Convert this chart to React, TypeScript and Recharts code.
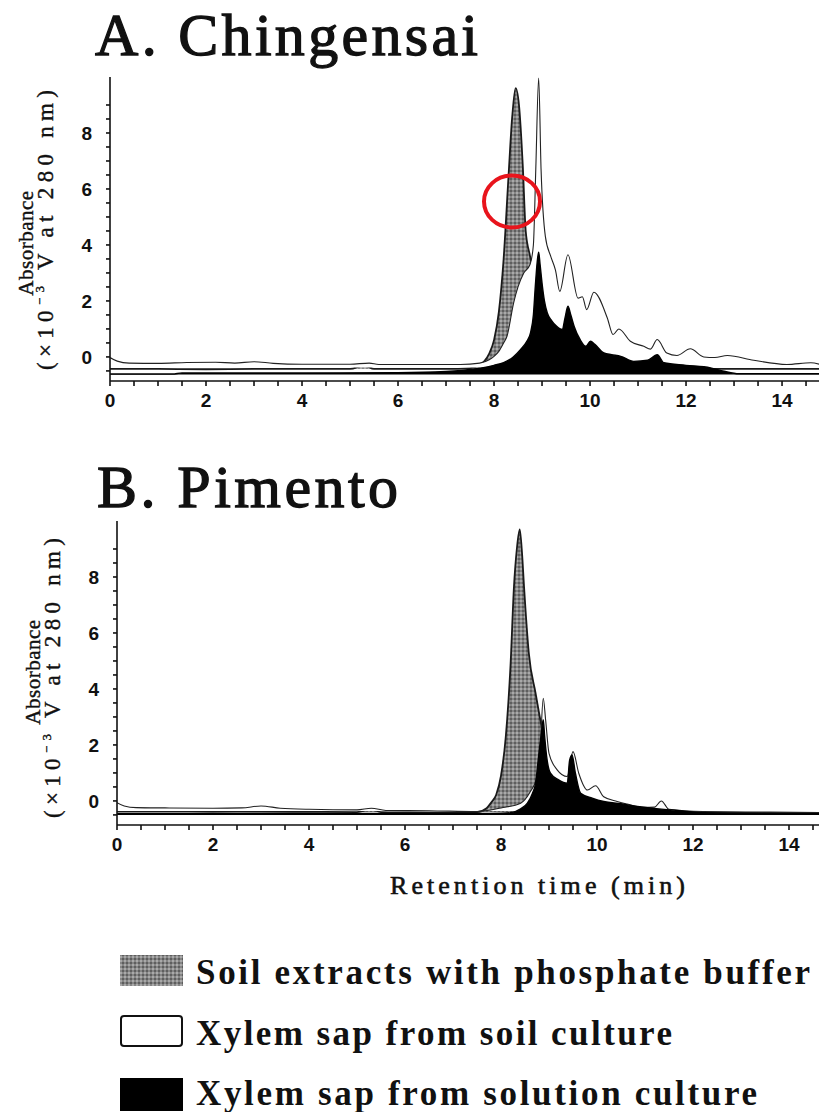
import { ComposedChart, Area, XAxis, YAxis } from "recharts";

// Panel A – Chingensai (retention time in min, absorbance in 10^-3 V)
const aPhosT = [0, 0.3, 1, 2, 3, 4, 5, 5.3, 5.5, 6, 7, 7.5, 7.7, 7.8, 7.9, 8.0, 8.1, 8.2, 8.3, 8.38, 8.45, 8.52, 8.6, 8.66, 8.75, 8.85, 8.95, 9.05, 9.2, 9.5, 10, 11, 12, 14.8];
const aPhosV = [-0.43, -0.43, -0.43, -0.44, -0.43, -0.43, -0.43, -0.3, -0.43, -0.43, -0.43, -0.4, -0.3, -0.15, 0.12, 0.6, 1.6, 3.5, 6.4, 8.6, 9.6, 9.0, 6.8, 4.5, 3.6, 2.6, 1.7, 1.1, 0.5, 0.0, -0.3, -0.42, -0.43, -0.43];

const aSoilT = [0, 0.15, 0.4, 1.0, 1.6, 2.2, 2.6, 3.0, 3.4, 4.0, 5.0, 5.4, 5.6, 6.5, 7.3, 7.7, 7.9, 8.0, 8.1, 8.2, 8.27, 8.41, 8.5, 8.62, 8.75, 8.82, 8.87, 8.93, 8.98, 9.07, 9.18, 9.28, 9.37, 9.54, 9.75, 9.84, 9.93, 10.08, 10.36, 10.48, 10.6, 10.84, 11.12, 11.26, 11.4, 11.6, 11.81, 12.09, 12.37, 12.6, 12.86, 13.41, 14.1, 14.6, 14.8];
const aSoilV = [-0.02, -0.15, -0.22, -0.23, -0.2, -0.19, -0.22, -0.17, -0.23, -0.26, -0.26, -0.22, -0.27, -0.27, -0.27, -0.22, -0.1, 0.02, 0.2, 0.5, 0.74, 1.94, 2.5, 3.0, 3.3, 4.0, 6.7, 9.96, 6.7, 4.3, 3.6, 3.1, 2.34, 3.65, 2.1, 2.15, 1.69, 2.31, 1.39, 0.8, 1.0, 0.56, 0.38, 0.28, 0.62, 0.14, 0.05, 0.29, 0.0, -0.02, 0.05, -0.12, -0.27, -0.21, -0.27];

const aSolT = [0, 1.3, 1.5, 4, 6, 7, 7.5, 7.72, 8.0, 8.2, 8.4, 8.55, 8.68, 8.76, 8.82, 8.86, 8.9, 8.93, 8.96, 9.0, 9.05, 9.11, 9.2, 9.3, 9.42, 9.48, 9.54, 9.6, 9.67, 9.8, 9.91, 10.01, 10.1, 10.29, 10.45, 10.64, 10.91, 11.2, 11.4, 11.54, 12.0, 12.51, 12.79, 13.1, 14.8];
const aSolV = [-0.61, -0.61, -0.57, -0.57, -0.56, -0.52, -0.45, -0.4, -0.3, -0.2, 0.0, 0.26, 0.55, 0.86, 1.5, 2.52, 3.4, 3.74, 3.3, 2.64, 2.0, 1.57, 1.3, 1.1, 0.98, 1.4, 1.81, 1.5, 1.09, 0.6, 0.38, 0.56, 0.45, 0.14, 0.08, 0.02, -0.16, -0.12, 0.08, -0.21, -0.3, -0.39, -0.51, -0.6, -0.6];

// Panel B – Pimento
const bPhosT = [0, 1, 2, 3, 4, 5, 5.3, 5.5, 6, 7, 7.5, 7.7, 7.8, 7.9, 8.0, 8.1, 8.2, 8.27, 8.33, 8.39, 8.44, 8.48, 8.58, 8.72, 8.82, 8.9, 9.0, 9.2, 9.5, 10, 11, 12, 14.7];
const bPhosV = [-0.38, -0.38, -0.39, -0.38, -0.39, -0.4, -0.3, -0.4, -0.41, -0.42, -0.4, -0.26, -0.05, 0.22, 0.9, 2.3, 4.9, 7.65, 9.0, 9.7, 8.8, 7.65, 5.27, 3.85, 2.89, 2.2, 1.5, 0.7, 0.1, -0.2, -0.36, -0.4, -0.42];

const bSoilT = [0, 0.15, 0.4, 1, 2, 2.6, 3.0, 3.4, 4, 5, 5.3, 5.6, 6.5, 7.5, 8.0, 8.41, 8.6, 8.75, 8.82, 8.88, 8.93, 9.0, 9.17, 9.38, 9.5, 9.62, 9.8, 9.97, 10.14, 10.42, 10.63, 10.97, 11.2, 11.34, 11.5, 12.2, 13.6, 14.7];
const bSoilV = [-0.06, -0.18, -0.24, -0.25, -0.26, -0.25, -0.18, -0.26, -0.3, -0.32, -0.26, -0.34, -0.35, -0.38, -0.25, -0.08, 0.3, 0.87, 2.0, 3.67, 2.89, 1.7, 1.11, 0.87, 1.76, 0.99, 0.39, 0.54, 0.15, -0.02, -0.11, -0.23, -0.22, 0.0, -0.3, -0.38, -0.4, -0.42];

const bSolT = [0, 1, 3, 5, 6, 7, 7.5, 8.0, 8.2, 8.41, 8.55, 8.65, 8.72, 8.79, 8.84, 8.88, 8.91, 8.95, 9.03, 9.2, 9.38, 9.43, 9.48, 9.55, 9.66, 9.9, 10.14, 10.5, 10.84, 11.53, 12.2, 13, 14.7];
const bSolV = [-0.46, -0.46, -0.45, -0.45, -0.45, -0.45, -0.45, -0.44, -0.42, -0.28, -0.08, 0.25, 0.63, 1.7, 2.4, 2.9, 2.3, 1.6, 0.99, 0.75, 0.63, 1.46, 1.64, 0.99, 0.27, 0.1, -0.02, -0.1, -0.2, -0.32, -0.42, -0.45, -0.46];

const X_LABELS = [0, 2, 4, 6, 8, 10, 12, 14];
const Y_LABELS = [0, 2, 4, 6, 8];
const X_TICKS = Array.from({ length: 30 }, (_, i) => i * 0.5);
const Y_TICKS = Array.from({ length: 20 }, (_, i) => -0.5 + i * 0.5);

const LEGEND = [
  "Soil extracts with phosphate buffer",
  "Xylem sap from soil culture",
  "Xylem sap from solution culture",
];

type Series = { key: string; t: number[]; v: number[] };

// merge series sampled at different times into one table keyed by t
function mergeRows(list: Series[]) {
  const map = new Map<number, any>();
  list.forEach((s) => {
    s.t.forEach((t, i) => {
      if (!map.has(t)) map.set(t, { t });
      map.get(t)[s.key] = s.v[i];
    });
  });
  return Array.from(map.values()).sort((a, b) => a.t - b.t);
}

const rowsA = mergeRows([
  { key: "phos", t: aPhosT, v: aPhosV },
  { key: "soil", t: aSoilT, v: aSoilV },
  { key: "sol", t: aSolT, v: aSolV },
]);
const rowsB = mergeRows([
  { key: "phos", t: bPhosT, v: bPhosV },
  { key: "soil", t: bSoilT, v: bSoilV },
  { key: "sol", t: bSolT, v: bSolV },
]);

const TICK = {
  fontFamily: "'Liberation Sans Narrow', 'Liberation Sans', Arial, sans-serif",
  fontWeight: 700,
  fontSize: 19,
  fill: "#111",
};
const SERIF = "'Liberation Serif', 'DejaVu Serif', serif";

function Halftone({ id }: { id: string }) {
  return (
    <pattern id={id} width={4} height={4} patternUnits="userSpaceOnUse">
      <rect width={4} height={4} fill="#858585" />
      <rect width={2} height={2} fill="#a9a9a9" />
      <rect x={2} y={2} width={2} height={2} fill="#5e5e5e" />
    </pattern>
  );
}

function Panel({
  rows,
  top,
  axisLeft,
  xMax,
  base,
  id,
}: {
  rows: any[];
  top: number;
  axisLeft: number;
  xMax: number;
  base: { phos: number; soil: number; sol: number };
  id: string;
}) {
  return (
    <div style={{ position: "absolute", left: 0, top }}>
      <ComposedChart
        width={819}
        height={420}
        data={rows}
        margin={{ top: 77, right: 0, bottom: 0, left: 0 }}
      >
        <defs>
          <Halftone id={id} />
        </defs>
        <XAxis
          dataKey="t"
          type="number"
          domain={[0, xMax]}
          allowDataOverflow
          ticks={X_TICKS}
          interval={0}
          tickFormatter={(v) => (X_LABELS.includes(v) ? String(v) : "")}
          height={39}
          tickSize={5}
          tickMargin={8}
          stroke="#111"
          strokeWidth={1.6}
          tick={TICK}
        />
        <YAxis
          type="number"
          domain={[-0.86, 10]}
          allowDataOverflow
          ticks={Y_TICKS}
          interval={0}
          tickFormatter={(v) => (Y_LABELS.includes(v) ? String(v) : "")}
          width={axisLeft}
          tickSize={4}
          tickMargin={14}
          stroke="#111"
          strokeWidth={1.6}
          tick={TICK}
        />
        <Area
          dataKey="phos"
          type="monotone"
          baseValue={base.phos}
          fill={`url(#${id})`}
          fillOpacity={1}
          stroke="#1a1a1a"
          strokeWidth={1.8}
          connectNulls
          dot={false}
          activeDot={false}
          isAnimationActive={false}
        />
        <Area
          dataKey="soil"
          type="monotone"
          baseValue={base.soil}
          fill="#fff"
          fillOpacity={1}
          stroke="#222"
          strokeWidth={1.1}
          connectNulls
          dot={false}
          activeDot={false}
          isAnimationActive={false}
        />
        <Area
          dataKey="sol"
          type="monotone"
          baseValue={base.sol}
          fill="#000"
          fillOpacity={1}
          stroke="#000"
          strokeWidth={1.4}
          connectNulls
          dot={false}
          activeDot={false}
          isAnimationActive={false}
        />
      </ComposedChart>
    </div>
  );
}

function YLabel({ x1, x2, cy1, cy2 }: { x1: number; x2: number; cy1: number; cy2: number }) {
  return (
    <g fontFamily={SERIF} fill="#111" stroke="#111" strokeWidth={0.4}>
      <text
        x={x1}
        y={cy1}
        transform={`rotate(-90 ${x1} ${cy1})`}
        textAnchor="middle"
        fontSize={21}
        letterSpacing={0.5}
      >
        Absorbance
      </text>
      <text
        x={x2}
        y={cy2}
        transform={`rotate(-90 ${x2} ${cy2})`}
        textAnchor="middle"
        fontSize={23}
        textLength={280}
        lengthAdjust="spacing"
      >
        (×10<tspan fontSize={13} dy={-9}>−3</tspan>
        <tspan dy={9}> V at 280 nm)</tspan>
      </text>
    </g>
  );
}

export default function App() {
  return (
    <div
      style={{
        position: "absolute",
        left: 0,
        top: 0,
        width: 819,
        height: 1112,
        background: "#fff",
        overflow: "hidden",
      }}
    >
      <Panel
        rows={rowsA}
        top={0}
        axisLeft={110}
        xMax={14.77}
        base={{ phos: -0.43, soil: -0.38, sol: -0.63 }}
        id="htA"
      />
      <Panel
        rows={rowsB}
        top={444}
        axisLeft={117}
        xMax={14.625}
        base={{ phos: -0.4, soil: -0.36, sol: -0.5 }}
        id="htB"
      />
      <svg
        width={819}
        height={1112}
        style={{ position: "absolute", left: 0, top: 0, pointerEvents: "none" }}
      >
        <defs>
          <Halftone id="htLegend" />
        </defs>
        <g fontFamily={SERIF} fill="#111" stroke="#111" strokeWidth={1.3}>
          <text x={95} y={55} fontSize={60} textLength={383} lengthAdjust="spacing">
            A. Chingensai
          </text>
          <text x={97} y={507} fontSize={60} textLength={301} lengthAdjust="spacing">
            B. Pimento
          </text>
        </g>
        <YLabel x1={33} x2={53} cy1={243} cy2={230} />
        <YLabel x1={40} x2={60} cy1={672} cy2={678} />
        <text
          x={390}
          y={894}
          fontFamily={SERIF}
          fontSize={26}
          fill="#111"
          stroke="#111"
          strokeWidth={0.6}
          textLength={295}
          lengthAdjust="spacing"
        >
          Retention time (min)
        </text>
        <ellipse cx={512} cy={201.5} rx={28} ry={26} fill="none" stroke="#e8141c" strokeWidth={4} />
        <rect x={120} y={955} width={63} height={31} fill="url(#htLegend)" />
        <rect x={121} y={1016} width={61} height={30} rx={3} fill="#fff" stroke="#111" strokeWidth={2} />
        <rect x={120} y={1078} width={63} height={33} fill="#000" />
        {LEGEND.map((label, i) => (
          <text
            key={label}
            x={196}
            y={984 + i * 60.5}
            fontFamily={SERIF}
            fontWeight={700}
            fontSize={35}
            fill="#111"
            textLength={[614, 476, 561][i]}
            lengthAdjust="spacing"
          >
            {label}
          </text>
        ))}
      </svg>
    </div>
  );
}
